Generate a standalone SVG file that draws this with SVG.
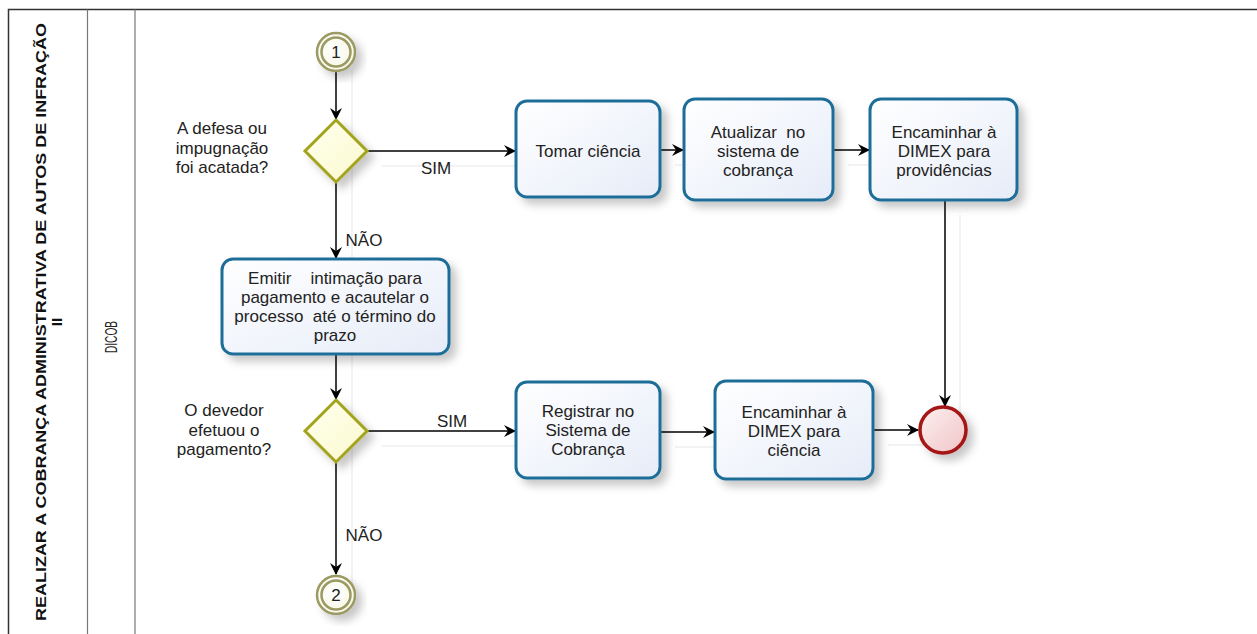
<svg xmlns="http://www.w3.org/2000/svg" width="1257" height="634" viewBox="0 0 1257 634">
  <defs>
    <linearGradient id="taskFill" x1="0" y1="0" x2="1" y2="1">
      <stop offset="0" stop-color="#ffffff"/>
      <stop offset="1" stop-color="#e6ecf8"/>
    </linearGradient>
    <linearGradient id="gwFill" x1="0" y1="0" x2="1" y2="1">
      <stop offset="0" stop-color="#ffffee"/>
      <stop offset="1" stop-color="#fafad0"/>
    </linearGradient>
    <linearGradient id="endFill" x1="0" y1="0" x2="1" y2="1">
      <stop offset="0" stop-color="#fdf0f0"/>
      <stop offset="1" stop-color="#f0c4c6"/>
    </linearGradient>
    <radialGradient id="linkFill" cx="0.4" cy="0.4" r="0.7">
      <stop offset="0" stop-color="#ffffff"/>
      <stop offset="1" stop-color="#f8f8e8"/>
    </radialGradient>
    <filter id="shadow" x="-20%" y="-20%" width="150%" height="150%">
      <feDropShadow dx="6" dy="6" stdDeviation="4" flood-color="#000" flood-opacity="0.22"/>
    </filter>
    <marker id="arrow" viewBox="0 0 12 12" refX="11" refY="6" markerWidth="12" markerHeight="12" markerUnits="userSpaceOnUse" orient="auto">
      <path d="M0,0 L12,6 L0,12 L4,6 z" fill="#000"/>
    </marker>
    <style>
      .frame { fill: none; stroke: #333; stroke-width: 1.5; }
      .lane { fill: none; stroke: #777; stroke-width: 1.2; }
      .task { fill: url(#taskFill); stroke: #1f6e98; stroke-width: 3; filter: url(#shadow); }
      .gw { fill: url(#gwFill); stroke: #a3a31e; stroke-width: 3; filter: url(#shadow); }
      .link { fill: url(#linkFill); stroke: #9a9a62; stroke-width: 2.5; }
      .end { fill: url(#endFill); stroke: #a51616; stroke-width: 3.5; filter: url(#shadow); }
      .edge { fill: none; stroke: #000; stroke-width: 1.5; marker-end: url(#arrow); }
      .ghost { fill: none; stroke: #efefef; stroke-width: 1.5; }
      .t { font-family: "Liberation Sans", Arial, sans-serif; font-size: 17px; fill: #222; text-anchor: middle; white-space: pre; }
      .title { font-family: "Liberation Sans Narrow", "Liberation Sans", Arial, sans-serif; font-size: 15.5px; font-weight: bold; fill: #111; text-anchor: middle; }
      .laneT { font-family: "Liberation Sans Narrow", "Liberation Sans", Arial, sans-serif; font-size: 16px; fill: #222; text-anchor: middle; }
    </style>
  </defs>

  <rect width="1257" height="634" fill="#fff"/>

  <!-- pool and lane frame -->
  <g id="pool">
    <path class="frame" d="M8.5,634 V9.5 H1257"/>
    <line class="lane" x1="87.5" y1="9.5" x2="87.5" y2="634"/>
    <line class="lane" x1="135" y1="9.5" x2="135" y2="634"/>
    <text class="title" transform="translate(46,322) rotate(-90)" textLength="598" lengthAdjust="spacingAndGlyphs">REALIZAR  A COBRANÇA ADMINISTRATIVA DE AUTOS DE INFRAÇÃO</text>
    <text class="title" transform="translate(62,322) rotate(-90)">II</text>
    <text class="laneT" transform="translate(117,337) rotate(-90)" textLength="32" lengthAdjust="spacingAndGlyphs">DICOB</text>
  </g>

  <!-- faint connector shadows -->
  <g id="edge-shadows">
    <line class="ghost" x1="352" y1="70" x2="352" y2="600"/>
    <line class="ghost" x1="382" y1="166" x2="531" y2="166"/>
    <line class="ghost" x1="675" y1="165" x2="699" y2="165"/>
    <line class="ghost" x1="848" y1="165" x2="885" y2="165"/>
    <line class="ghost" x1="960" y1="215" x2="960" y2="420"/>
    <line class="ghost" x1="382" y1="446" x2="531" y2="446"/>
    <line class="ghost" x1="675" y1="447" x2="730" y2="447"/>
    <line class="ghost" x1="888" y1="445" x2="933" y2="445"/>
  </g>

  <!-- connectors -->
  <g id="connectors">
    <line class="edge" x1="336" y1="72" x2="336" y2="119"/>
    <line class="edge" x1="367" y1="151" x2="515" y2="151"/>
    <line class="edge" x1="660" y1="150" x2="683" y2="150"/>
    <line class="edge" x1="833" y1="150" x2="869" y2="150"/>
    <line class="edge" x1="945" y1="200" x2="945" y2="406"/>
    <line class="edge" x1="336" y1="182" x2="336" y2="258"/>
    <line class="edge" x1="336" y1="354" x2="336" y2="399"/>
    <line class="edge" x1="367" y1="431" x2="515" y2="431"/>
    <line class="edge" x1="660" y1="432" x2="714" y2="432"/>
    <line class="edge" x1="873" y1="430" x2="918" y2="430"/>
    <line class="edge" x1="336" y1="462" x2="336" y2="574"/>
    <text class="t" x="436" y="174">SIM</text>
    <text class="t" x="452" y="427">SIM</text>
    <text class="t" x="364" y="246">NÃO</text>
    <text class="t" x="364" y="541">NÃO</text>
  </g>

  <g id="link-1">
    <g filter="url(#shadow)">
      <circle class="link" cx="336" cy="52" r="19"/>
    </g>
    <circle class="link" cx="336" cy="52" r="14.5"/>
    <text class="t" x="336" y="58">1</text>
  </g>

  <g id="gateway-1">
    <path class="gw" d="M336,120 L367,151 L336,182 L305,151 z"/>
    <text class="t" x="222" y="134">A defesa ou</text>
    <text class="t" x="222" y="154">impugnação</text>
    <text class="t" x="222" y="173">foi acatada?</text>
  </g>

  <g id="task-tomar-ciencia">
    <rect class="task" x="516" y="101" width="144" height="96" rx="11"/>
    <text class="t" x="588" y="157">Tomar ciência</text>
  </g>

  <g id="task-atualizar">
    <rect class="task" x="684" y="99" width="149" height="101" rx="11"/>
    <text class="t" x="758" y="138">Atualizar  no</text>
    <text class="t" x="758" y="157">sistema de</text>
    <text class="t" x="758" y="176">cobrança</text>
  </g>

  <g id="task-encaminhar-providencias">
    <rect class="task" x="870" y="99" width="147" height="101" rx="11"/>
    <text class="t" x="944" y="138">Encaminhar à</text>
    <text class="t" x="944" y="157">DIMEX para</text>
    <text class="t" x="944" y="176">providências</text>
  </g>

  <g id="task-emitir-intimacao">
    <rect class="task" x="222" y="259" width="227" height="95" rx="11"/>
    <text class="t" x="335" y="284">Emitir    intimação para</text>
    <text class="t" x="335" y="303">pagamento e acautelar o</text>
    <text class="t" x="335" y="322">processo  até o término do</text>
    <text class="t" x="335" y="341">prazo</text>
  </g>

  <g id="gateway-2">
    <path class="gw" d="M336,400 L367,431 L336,462 L305,431 z"/>
    <text class="t" x="224" y="416">O devedor</text>
    <text class="t" x="224" y="436">efetuou o</text>
    <text class="t" x="224" y="455">pagamento?</text>
  </g>

  <g id="task-registrar">
    <rect class="task" x="516" y="382" width="144" height="96" rx="11"/>
    <text class="t" x="588" y="417">Registrar no</text>
    <text class="t" x="588" y="436">Sistema de</text>
    <text class="t" x="588" y="455">Cobrança</text>
  </g>

  <g id="task-encaminhar-ciencia">
    <rect class="task" x="715" y="381" width="158" height="98" rx="11"/>
    <text class="t" x="794" y="418">Encaminhar à</text>
    <text class="t" x="794" y="437">DIMEX para</text>
    <text class="t" x="794" y="456">ciência</text>
  </g>

  <g id="end-event">
    <circle class="end" cx="943" cy="430" r="23"/>
  </g>

  <g id="link-2">
    <g filter="url(#shadow)">
      <circle class="link" cx="336" cy="595" r="19"/>
    </g>
    <circle class="link" cx="336" cy="595" r="14.5"/>
    <text class="t" x="336" y="601">2</text>
  </g>
</svg>
